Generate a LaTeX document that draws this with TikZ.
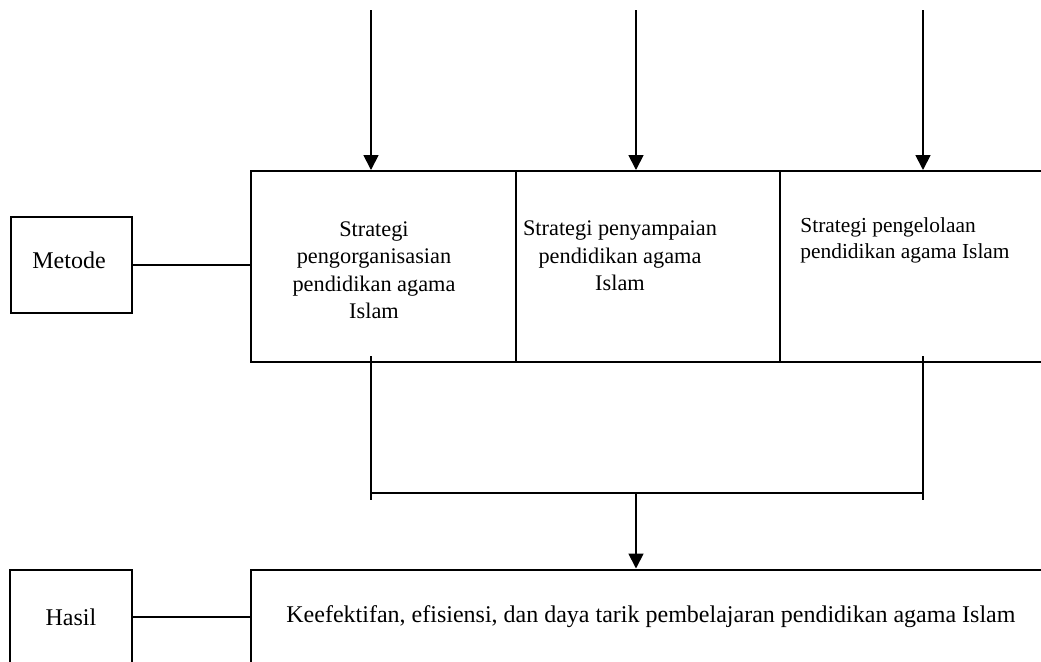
\documentclass[tikz,border=0pt]{standalone}
\usepackage{fontspec}
\setmainfont{Liberation Serif}
\usetikzlibrary{arrows.meta}

\tikzset{
  kotak/.style={draw, line width=1pt, inner sep=0pt},
  teks/.style={inner sep=0pt, font=\fontsize{11.15}{13.75}\selectfont},
  teksbesar/.style={inner sep=0pt, font=\fontsize{12}{14.4}\selectfont},
  garis/.style={line width=0.9pt},
  panah/.style={line width=0.9pt, -{Triangle[width=7.5pt,length=7.5pt]}}
}

\begin{document}
\begin{tikzpicture}[x=0.5pt,y=-0.5pt]
\useasboundingbox (0,0) rectangle (1041,661);
\clip (0,0) rectangle (1041,661);
% kotak strategi
\node[kotak, minimum width=132.5pt, minimum height=95.5pt] (s1) at (383.5,266.5) {};
\node[kotak, minimum width=132pt, minimum height=95.5pt] (s2) at (648,266.5) {};
\node[kotak, minimum width=150pt, minimum height=95.5pt] (s3) at (930,266.5) {};
\node[teks, align=center] (t1) at (374,270) {Strategi\\pengorganisasian\\pendidikan agama\\Islam};
\node[teks, align=center] (t2) at (620,256) {Strategi penyampaian\\pendidikan agama\\Islam};
\node[teks, align=left, anchor=west, font=\fontsize{10.7}{13}\selectfont] (t3) at (800,240) {Strategi pengelolaan\\pendidikan agama Islam};
% metode dan hasil
\node[kotak, minimum width=60.5pt, minimum height=48pt] (metode) at (71.5,265) {};
\node[teksbesar] (tm) at (69,260) {Metode};
\node[kotak, minimum width=61pt, minimum height=65pt] (hasil) at (71,634.5) {};
\node[teksbesar] (th) at (71,617) {Hasil};
\node[kotak, minimum width=414.5pt, minimum height=65pt] (hasilbox) at (665.5,634.5) {};
\node[teksbesar, anchor=west] (tk) at (286,617) {Keefektifan, efisiensi, dan daya tarik pembelajaran pendidikan agama Islam};
% panah masuk
\foreach \x/\n in {371/1, 636/2, 923/3} {
  \coordinate (in\n) at (\x,10);
  }
\draw[panah] (in1) -- (in1 |- s1.north);
\draw[panah] (in2) -- (in2 |- s2.north);
\draw[panah] (in3) -- (in3 |- s3.north);
% garis keluar
\coordinate (o1) at (371,356);
\coordinate (o3) at (923,356);
\coordinate (b1) at (371,500);
\coordinate (b3) at (923,500);
\coordinate (g1) at (371,493);
\coordinate (g3) at (923,493);
\coordinate (g2) at (636,493);
\draw[garis] (o1) -- (b1);
\draw[garis] (o3) -- (b3);
\draw[garis] (g1) -- (g3);
\draw[panah] (g2) -- (g2 |- hasilbox.north);
\draw[garis, line width=0.8pt] (metode.east) -- (metode.east -| s1.west);
\draw[garis, line width=0.8pt] (hasil.east |- th) -- (s1.west |- th);
\end{tikzpicture}
\end{document}
